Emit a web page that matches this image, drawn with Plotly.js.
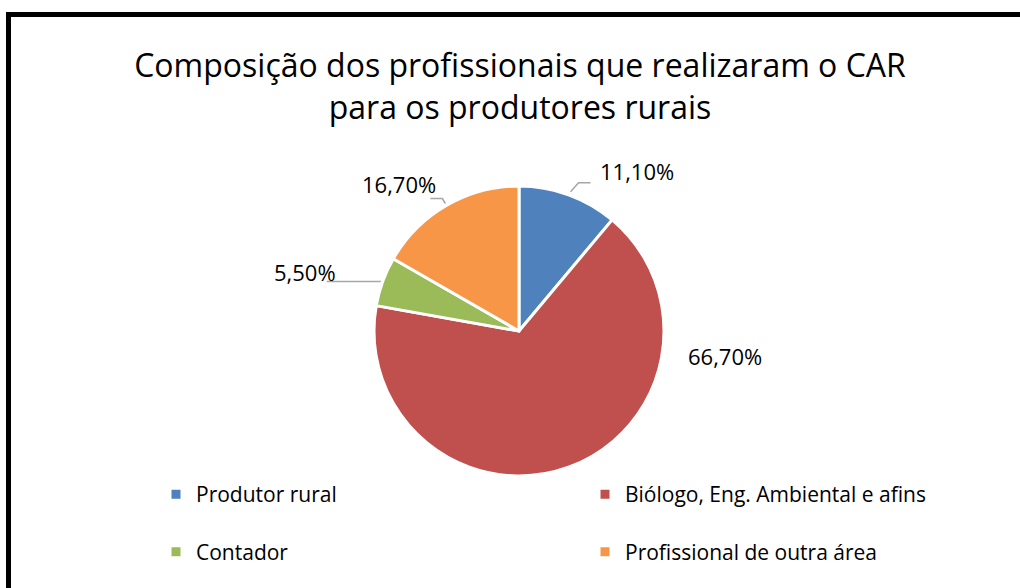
<!DOCTYPE html>
<html>
<head>
<meta charset="utf-8">
<script src="https://cdn.plot.ly/plotly-3.0.1.min.js"></script>
<style>
  html, body { margin: 0; padding: 0; background: #fff; }
  #wrap { position: relative; width: 1020px; height: 588px; overflow: hidden; }
  #chart { position: absolute; left: 0; top: 0; width: 1020px; height: 588px; }
  #frame { position: absolute; left: 6px; top: 12px; width: 1100px; height: 700px;
           border-left: 5px solid #000; border-top: 5px solid #000; pointer-events: none; }
</style>
</head>
<body>
<div id="wrap">
  <div id="chart"></div>
  <div id="frame"></div>
</div>
<script>
// ---- data ----
const titleText = 'Composição dos profissionais que realizaram o CAR<br>para os produtores rurais';
const labels = ['Produtor rural', 'Biólogo, Eng. Ambiental e afins', 'Contador', 'Profissional de outra área'];
const values = [11.1, 66.7, 5.5, 16.7];
const colors = ['#4F81BD', '#C0504D', '#9BBB59', '#F79646'];

// ---- layout constants ----
const W = 1020, H = 588;
const CX = 519, CY = 331, R = 145;            // pie centre & radius in px
// label text offset from the slice edge point (px), and leader-line style per slice
const labelOffsets = [[68, -24], [156, -111], [-78, -9], [-47, -22]];
const leaders = [
  [[2, -3], [10, -12], [22, -12]],   // elbow up-right
  null,
  [[-2, 0], [-56, 0]],               // horizontal left
  [[-1, -2], [-4, -7], [-16, -7]]    // elbow up-left
];

const px2x = p => p / W;
const px2y = p => 1 - p / H;

const total = values.reduce((a, b) => a + b, 0);
let cum = 0;
const annotations = [];
const shapes = [];
values.forEach((v, i) => {
  const mid = (cum + v / 2) / total * 2 * Math.PI;
  cum += v;
  const ex = CX + R * Math.sin(mid);
  const ey = CY - R * Math.cos(mid);
  const txt = v.toFixed(2).replace('.', ',') + '%';
  annotations.push({
    xref: 'paper', yref: 'paper',
    x: px2x(ex + labelOffsets[i][0]), y: px2y(ey + labelOffsets[i][1]),
    xanchor: 'center', yanchor: 'middle',
    text: txt, showarrow: false,
    font: {family: 'Open Sans, sans-serif', size: 22, color: '#000'}
  });
  if (leaders[i]) {
    const pts = leaders[i].map(d => [px2x(ex + d[0]), px2y(ey + d[1])]);
    const path = 'M' + pts.map(p => p[0] + ',' + p[1]).join(' L');
    shapes.push({type: 'path', xref: 'paper', yref: 'paper', path: path,
                 line: {color: '#A6A6A6', width: 1.5}});
  }
});

const trace = {
  type: 'pie',
  labels: labels.map(l => l + '<br> '),
  values: values,
  sort: false,
  direction: 'clockwise',
  rotation: 0,
  textinfo: 'none',
  hoverinfo: 'percent',
  marker: {colors: colors, line: {color: '#FFFFFF', width: 3}},
  domain: {x: [px2x(CX - R), px2x(CX + R)], y: [px2y(CY + R), px2y(CY - R)]}
};

const layout = {
  width: W, height: H,
  margin: {l: 0, r: 0, t: 0, b: 0, autoexpand: false},
  paper_bgcolor: '#FFFFFF',
  separators: ',.',
  title: {
    text: titleText,
    font: {family: 'Open Sans, sans-serif', size: 32, color: '#000'},
    x: 520 / W, xanchor: 'center',
    y: 1 - 77 / H, yanchor: 'middle',
    automargin: false
  },
  showlegend: true,
  legend: {
    orientation: 'h',
    x: 156 / W, xanchor: 'left',
    y: 1 - 474 / H, yanchor: 'top',
    entrywidth: 384,
    valign: 'top',
    font: {family: 'Open Sans, sans-serif', size: 21, color: '#000'},
    bgcolor: 'rgba(0,0,0,0)'
  },
  annotations: annotations,
  shapes: shapes
};

Plotly.newPlot('chart', [trace], layout, {displayModeBar: false, staticPlot: true});
</script>
</body>
</html>
